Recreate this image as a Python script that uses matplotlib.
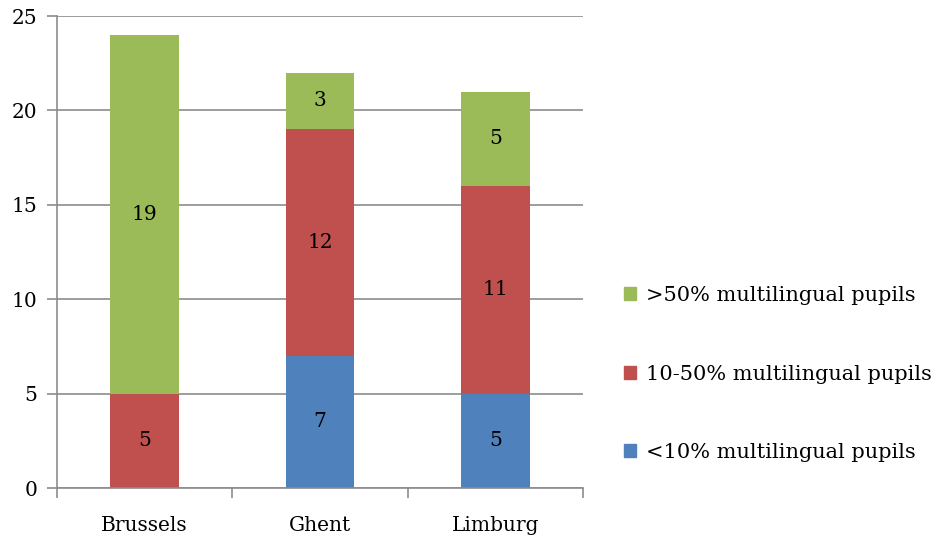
import numpy as np
import matplotlib as mpl
mpl.use('Agg')
import matplotlib.pyplot as plt
from matplotlib.patches import Patch

regions = ["Brussels", "Ghent", "Limburg"]
low = [0, 7, 5]        # <10% multilingual pupils
mid = [5, 12, 11]      # 10-50% multilingual pupils
high = [19, 3, 5]      # >50% multilingual pupils
series_names = ["<10% multilingual pupils", "10-50% multilingual pupils", ">50% multilingual pupils"]
colors = ["#4F81BD", "#C0504D", "#9BBB59"]

plt.rcParams['font.family'] = ['DejaVu Serif']
plt.rcParams['font.size'] = 14.5

fig = plt.figure(figsize=(9.38, 5.39), dpi=100)
ax = fig.add_axes([57/938, 51/539, 526/938, 472/539])

x = np.arange(len(regions))
width = 0.39
bottom = np.zeros(len(regions))
for vals, col in zip([low, mid, high], colors):
    vals = np.array(vals)
    ax.bar(x, vals, width, bottom=bottom, color=col, zorder=2)
    for xi, v, b in zip(x, vals, bottom):
        if v > 0:
            ax.text(xi, b + v / 2, str(v), ha='center', va='center', fontsize=14.5, zorder=3)
    bottom += vals

ax.set_xlim(-0.5, 2.5)
ax.set_ylim(0, 25)
ax.set_yticks(range(0, 26, 5))
ax.yaxis.grid(True, color='#8c8c8c', lw=1.2, zorder=0)
ax.set_xticks(x)
ax.set_xticklabels(regions)
ax.set_xticks([-0.5, 0.5, 1.5, 2.5], minor=True)
ax.tick_params(axis='x', which='major', length=0, pad=20)
ax.tick_params(axis='x', which='minor', length=7, color='#8c8c8c', width=1.2)
ax.tick_params(axis='y', length=7, color='#8c8c8c', width=1.2, pad=7)
for s in ['top', 'right']:
    ax.spines[s].set_visible(False)
for s in ['left', 'bottom']:
    ax.spines[s].set_color('#8c8c8c')
    ax.spines[s].set_linewidth(1.2)

handles = [Patch(color=c) for c in colors[::-1]]
fig.legend(handles, series_names[::-1], loc='center left', bbox_to_anchor=(0.665, 0.306),
           frameon=False, handlelength=0.6, handleheight=0.6, handletextpad=0.45,
           labelspacing=2.85, fontsize=15, borderaxespad=0, borderpad=0)

fig.savefig("out.png", dpi=100)
